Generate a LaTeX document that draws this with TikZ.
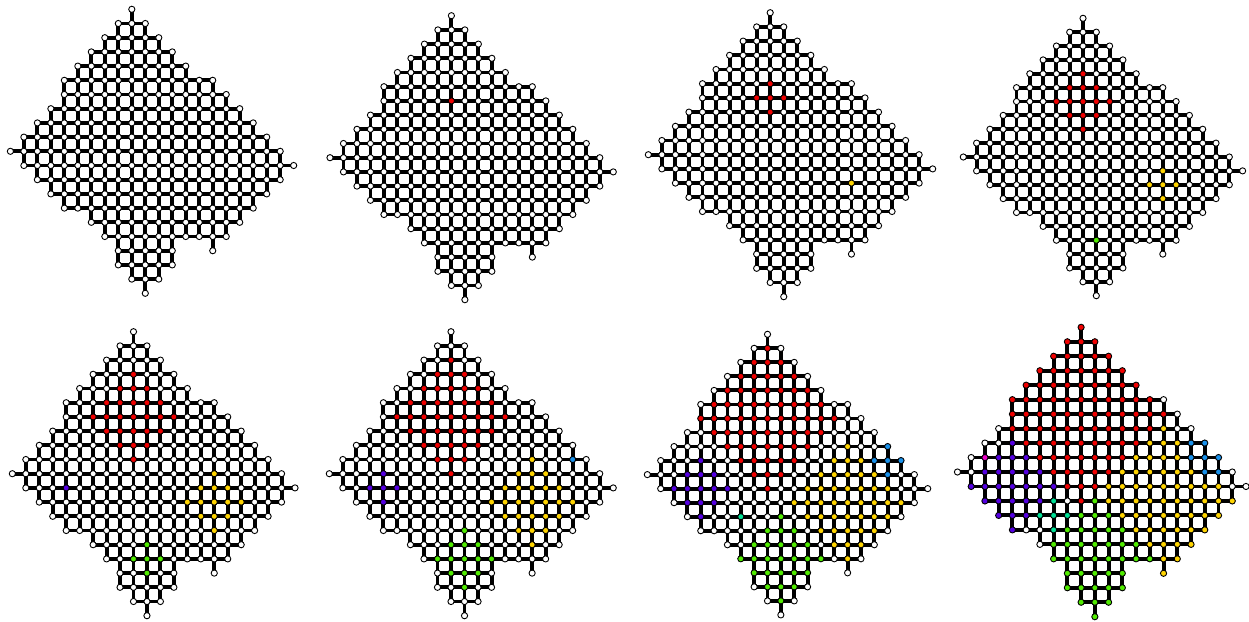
\documentclass[tikz,border=0pt]{standalone}
\usetikzlibrary{backgrounds}
\definecolor{cR}{RGB}{240,0,0}
\definecolor{cY}{RGB}{255,212,0}
\definecolor{cG}{RGB}{80,235,0}
\definecolor{cB}{RGB}{85,0,225}
\definecolor{cL}{RGB}{25,145,235}
\definecolor{cT}{RGB}{0,225,150}
\definecolor{cM}{RGB}{235,0,200}
\def\LO{{0,-1,-2,-3,-4,-5,-5,-6,-7,-8,-9,-8,-7,-6,-5,-3,-2,-1,-1,0,1}}
\def\HI{{0,1,2,3,4,6,7,8,9,10,11,12,11,10,9,8,7,3,3,2,1}}
\def\SR{{6,12,16,11,9,13,9}}
\def\SC{{0,6,1,-5,9,-2,-7}}
\def\PX{{131.8,451.4,770.2,1083,133.5,451,767.5,1081.1}}
\def\PY{{9.3,15.7,12.7,18.3,331.7,331.7,334.3,327.3}}
\def\PDX{{13.49,13.49,13.54,13.30,13.46,13.52,13.35,13.74}}
\def\PDY{{14.2,14.2,14.2,13.87,14.2,14.2,14.03,14.47}}
\newcommand\getcol[3]{%
  \gdef\nodecol{white}\gdef\bestA{99}%
  \foreach \s in {0,...,6}{%
    \pgfmathtruncatemacro\sst{\s+1}%
    \ifnum\sst>#1\relax\else
      \pgfmathtruncatemacro\arr{\sst+abs(#2-\SR[\s])+abs(#3-\SC[\s])}%
      \ifnum\arr>#1\relax\else
        \ifnum\arr>\bestA\relax\else
          \xdef\bestA{\arr}%
          \xdef\nodecol{\ifcase\s cR\or cY\or cG\or cB\or cL\or cT\or cM\fi}%
        \fi
      \fi
    \fi}}
\tikzset{
  gedge/.style={line width=3.9pt, black},
  gnode/.style={circle, draw=black, line width=0.9pt, inner sep=0pt, minimum size=6.2pt}
}
\begin{document}
\begin{tikzpicture}[x=1pt,y=-1pt]
\useasboundingbox (0,0) rectangle (1249,621);
\begin{pgfonlayer}{background}
\fill[white] (0,0) rectangle (1249,621);
\end{pgfonlayer}
\foreach \p in {0,...,7}{
  \pgfmathsetmacro\xo{\PX[\p]}
  \pgfmathsetmacro\yo{\PY[\p]}
  \pgfmathsetmacro\dx{\PDX[\p]}
  \pgfmathsetmacro\dy{\PDY[\p]}
  \foreach \r in {0,...,20}{
    \pgfmathtruncatemacro\lo{\LO[\r]}
    \pgfmathtruncatemacro\hi{\HI[\r]}
    \foreach \c in {\lo,...,\hi}{
      \getcol{\p}{\r}{\c}
      \pgfmathtruncatemacro\ci{\c+9}
      \node[gnode,fill=\nodecol] (n\p-\r-\ci) at ({\xo+(\c)*\dx},{\yo+\r*\dy}) {};
    }
  }
  \getcol{\p}{17}{6}
  \node[gnode,fill=\nodecol] (n\p-17-15) at ({\xo+6*\dx},{\yo+17*\dy}) {};
  \begin{pgfonlayer}{background}
  \foreach \r in {1,...,19}{
    \pgfmathtruncatemacro\lo{\LO[\r]+9}
    \pgfmathtruncatemacro\hm{\HI[\r]+8}
    \foreach \c in {\lo,...,\hm}{
      \pgfmathtruncatemacro\cn{\c+1}
      \draw[gedge] (n\p-\r-\c.center) -- (n\p-\r-\cn.center);
    }
  }
  \foreach \r in {0,...,19}{
    \pgfmathtruncatemacro\rn{\r+1}
    \pgfmathtruncatemacro\lo{max(\LO[\r],\LO[\rn])+9}
    \pgfmathtruncatemacro\hm{min(\HI[\r],\HI[\rn])+9}
    \foreach \c in {\lo,...,\hm}{
      \draw[gedge] (n\p-\r-\c.center) -- (n\p-\rn-\c.center);
    }
  }
  \draw[gedge] (n\p-16-15.center) -- (n\p-17-15.center);
  \end{pgfonlayer}
}
\end{tikzpicture}
\end{document}
